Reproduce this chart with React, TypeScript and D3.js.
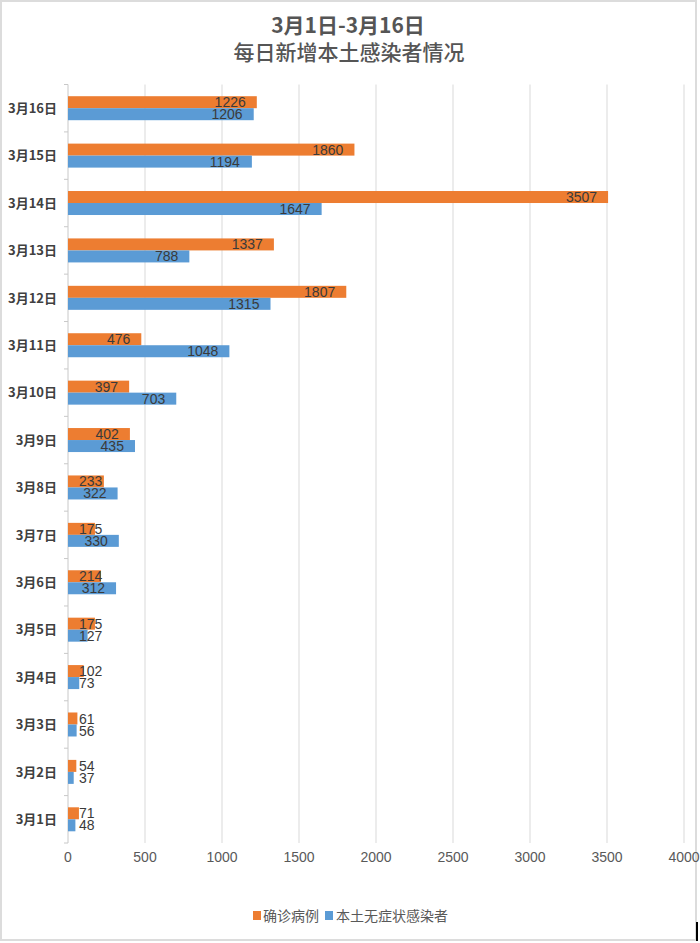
import React from "react";
import * as d3 from "d3";

const categories = ["3月16日","3月15日","3月14日","3月13日","3月12日","3月11日","3月10日","3月9日","3月8日","3月7日","3月6日","3月5日","3月4日","3月3日","3月2日","3月1日"];
const confirmed = [1226,1860,3507,1337,1807,476,397,402,233,175,214,175,102,61,54,71];
const asymptomatic = [1206,1194,1647,788,1315,1048,703,435,322,330,312,127,73,56,37,48];
const xTicks = [0,500,1000,1500,2000,2500,3000,3500,4000];
const seriesNames = ["确诊病例","本土无症状感染者"];
const titleLines = ["3月1日-3月16日","每日新增本土感染者情况"];

const W = 700, H = 943;
const ORANGE = "#ED7D31", BLUE = "#5B9BD5";

export default function App() {
  const x = d3.scaleLinear().domain([0, 4000]).range([68, 684]);
  const y = d3.scaleBand<string>().domain(categories).range([84.5, 843]).paddingInner(0).paddingOuter(0);
  const bw = y.bandwidth();
  const barH = 12;
  const plotTop = y.range()[0], plotBot = y.range()[1];
  const numFont = "'Liberation Sans', Arial, sans-serif";
  const cjk = "'Noto Sans CJK SC', sans-serif";

  const labelX = (v: number) => {
    const w = String(v).length * 7.8;
    return Math.max(x(v) - 11 - w, 79);
  };

  return (
    <svg width={W} height={H} style={{ position: "absolute", left: 0, top: 0, background: "#fff" }}>
      <rect x={1} y={1} width={W - 5} height={H - 4} fill="#fff" stroke="#dcdcdc" strokeWidth={2} />
      <text x={348} y={33} textAnchor="middle" fontFamily={cjk} fontSize={21} fontWeight={700} fill="#555">{titleLines[0]}</text>
      <text x={349} y={60} textAnchor="middle" fontFamily={cjk} fontSize={21} fontWeight={500} fill="#555">{titleLines[1]}</text>

      {xTicks.map((t) => (
        <g key={t}>
          {t > 0 && <line x1={x(t)} x2={x(t)} y1={plotTop} y2={plotBot} stroke="#d9d9d9" strokeWidth={1} />}
          <text x={x(t)} y={862} textAnchor="middle" fontFamily={numFont} fontSize={14} fill="#595959">{t}</text>
        </g>
      ))}

      <line x1={68} x2={68} y1={plotTop} y2={plotBot} stroke="#c8c8c8" strokeWidth={1} />
      {d3.range(categories.length + 1).map((i) => (
        <line key={i} x1={64} x2={68} y1={plotTop + i * bw} y2={plotTop + i * bw} stroke="#c8c8c8" strokeWidth={1} />
      ))}

      {categories.map((c, i) => {
        const cy = (y(c) as number) + bw / 2;
        return (
          <g key={c}>
            <text x={57} y={cy} dy="0.36em" textAnchor="end" fontFamily={cjk} fontSize={13} fontWeight={700} fill="#404040">{c}</text>
            <rect x={x(0)} y={cy - barH} width={x(confirmed[i]) - x(0)} height={barH} fill={ORANGE} />
            <rect x={x(0)} y={cy} width={x(asymptomatic[i]) - x(0)} height={barH} fill={BLUE} />
            <text x={labelX(confirmed[i])} y={cy - barH / 2} dy="0.36em" fontFamily={numFont} fontSize={14} fill="#3a3a3a">{confirmed[i]}</text>
            <text x={labelX(asymptomatic[i])} y={cy + barH / 2} dy="0.36em" fontFamily={numFont} fontSize={14} fill="#3a3a3a">{asymptomatic[i]}</text>
          </g>
        );
      })}

      <rect x={253} y={911} width={8} height={9} fill={ORANGE} />
      <text x={263} y={916} dy="0.36em" fontFamily={cjk} fontSize={14} fill="#595959">{seriesNames[0]}</text>
      <rect x={325} y={911} width={8} height={9} fill={BLUE} />
      <text x={336} y={916} dy="0.36em" fontFamily={cjk} fontSize={14} fill="#595959">{seriesNames[1]}</text>
      <line x1={697} x2={697} y1={922} y2={941} stroke="#000" strokeWidth={2} />
    </svg>
  );
}
